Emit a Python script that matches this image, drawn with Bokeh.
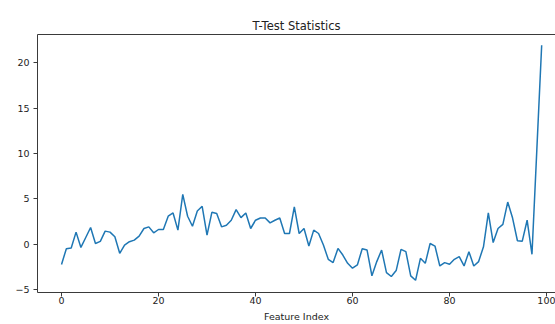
from bokeh.plotting import figure
from bokeh.models import Range1d, FixedTicker, LinearAxis, BoxAnnotation
from bokeh.embed import file_html
from bokeh.resources import INLINE

feature_index = list(range(100))
t_stats = [
    -2.2, -0.47, -0.4, 1.35, -0.33, 0.76, 1.86, 0.1, 0.33, 1.46,
    1.35, 0.84, -0.98, -0.07, 0.3, 0.47, 0.91, 1.75, 1.93, 1.28,
    1.64, 1.64, 3.1, 3.46, 1.57, 5.5, 3.1, 2.0, 3.68, 4.19,
    1.02, 3.53, 3.39, 1.93, 2.11, 2.66, 3.83, 2.95, 3.46, 1.75,
    2.66, 2.91, 2.91, 2.37, 2.66, 2.91, 1.2, 1.2, 4.12, 1.2,
    1.75, -0.18, 1.57, 1.2, -0.07, -1.64, -2.0, -0.44, -1.17, -2.08,
    -2.62, -2.26, -0.47, -0.62, -3.46, -1.89, -0.62, -3.1, -3.53, -2.88,
    -0.55, -0.8, -3.46, -3.95, -1.53, -2.08, 0.1, -0.18, -2.37, -2.0,
    -2.19, -1.64, -1.35, -2.37, -0.8, -2.37, -1.89, -0.26, 3.46, 0.2,
    1.75, 2.2, 4.66, 2.9, 0.4, 0.36, 2.66, -1.09, 10.4, 21.9,
]
x_ticks = [0, 20, 40, 60, 80, 100]
y_ticks = [-5, 0, 5, 10, 15, 20]
title_text = "T-Test Statistics"
x_label = "Feature Index"

FONT = "DejaVu Sans"
SPINE = "#3a3a3a"
TXT = "#222222"

p = figure(width=555, height=324, output_backend="svg", toolbar_location=None,
           x_range=Range1d(-4.95, 101.85), y_range=Range1d(-5.29, 23.09),
           min_border_left=37, min_border_right=0, min_border_top=34,
           min_border_bottom=0)

p.title.text = title_text
p.title.text_font = FONT
p.title.text_font_size = "11.5px"
p.title.text_font_style = "normal"
p.title.text_color = TXT
p.title.align = "center"
p.title.standoff = 4

p.outline_line_color = None
p.grid.visible = False
p.background_fill_color = "white"
p.border_fill_color = "white"

p.line(feature_index, t_stats, line_color="#1f77b4", line_width=1.5)

for ax in (p.xaxis[0], p.yaxis[0]):
    ax.axis_line_color = SPINE
    ax.axis_line_width = 1
    ax.major_tick_line_color = SPINE
    ax.major_tick_out = 4
    ax.major_tick_in = 0
    ax.minor_tick_line_color = None
    ax.major_label_text_font = FONT
    ax.major_label_text_font_size = "9.5px"
    ax.major_label_text_color = TXT

p.xaxis[0].ticker = FixedTicker(ticks=x_ticks)
p.yaxis[0].ticker = FixedTicker(ticks=y_ticks)
p.yaxis[0].major_label_overrides = {t: (str(t) if t >= 0 else "\u2212" + str(-t)) for t in y_ticks}
p.xaxis[0].major_label_standoff = 0
p.yaxis[0].major_label_standoff = 4
p.xaxis[0].axis_label = x_label
p.xaxis[0].axis_label_text_font = FONT
p.xaxis[0].axis_label_text_font_size = "9.5px"
p.xaxis[0].axis_label_text_font_style = "normal"
p.xaxis[0].axis_label_text_color = TXT
p.xaxis[0].axis_label_standoff = 4

top = LinearAxis(ticker=FixedTicker(ticks=[]), axis_line_color=SPINE,
                 major_label_text_font_size="0px", major_tick_line_color=None,
                 minor_tick_line_color=None)
p.add_layout(top, "above")

edge = BoxAnnotation(left=11.5, right=13, top=0, bottom=324,
                     left_units="canvas", right_units="canvas",
                     top_units="canvas", bottom_units="canvas",
                     fill_color="#ededed", fill_alpha=1.0, line_color=None,
                     level="underlay")
p.add_layout(edge)

open("out.html", "w").write(file_html(p, INLINE))
